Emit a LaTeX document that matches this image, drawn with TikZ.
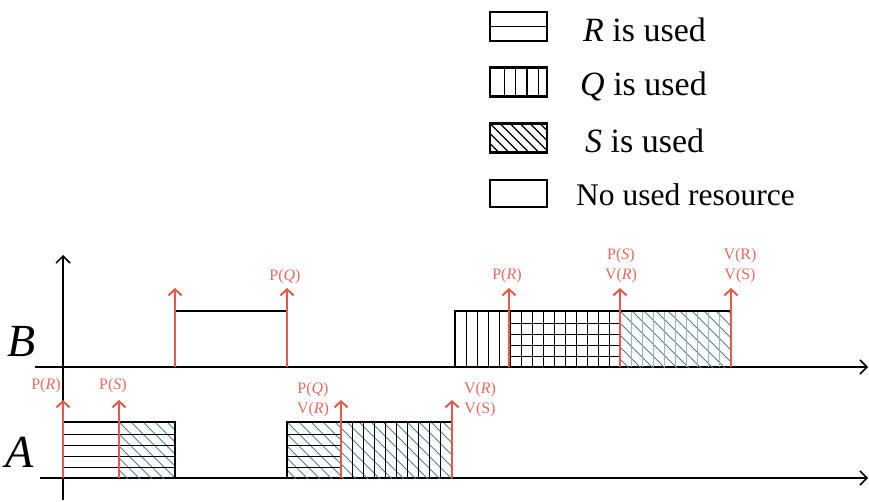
\documentclass[tikz,border=0pt]{standalone}
\usepackage{fontspec}
\setmainfont{Liberation Serif}
\usetikzlibrary{arrows.meta,calc}
\definecolor{sig}{HTML}{E5584A}
\definecolor{siglight}{HTML}{E26A60}
\definecolor{hatch}{HTML}{4F7E90}
\definecolor{faint}{HTML}{9DB4C0}

\begin{document}
\begin{tikzpicture}[
    x=1pt, y=1pt,
    axis/.style={draw=black, line width=1.5pt, -{Straight Barb[length=7pt, width=14pt, line width=1.5pt]}},
    event/.style={draw=sig, line width=2.2pt, -{Straight Barb[length=6pt, width=13pt, line width=2pt]}},
    edge/.style={draw=black, line width=1.4pt},
    hl/.style={draw=black, line width=1pt},
    dg/.style={draw=hatch, line width=0.8pt},
    fl/.style={draw=faint, line width=0.7pt},
    tag/.style={text=siglight, font=\fontsize{16}{20}\selectfont, inner sep=0pt, align=center},
    track/.style={font=\fontsize{46}{48}\selectfont\itshape, inner sep=0pt},
    key/.style={draw=black, line width=2.2pt, minimum width=57pt, minimum height=29pt, inner sep=0pt},
    keytext/.style={font=\fontsize{34}{38}\selectfont, anchor=west, inner sep=0pt},
  ]
  \useasboundingbox (0,0) rectangle (869,501);

  % Legende
  \node[key, path picture={\draw[line width=1.8pt] (path picture bounding box.west) -- (path picture bounding box.east);}]
    (keyR) at (518.5,474.5) {};
  \node[key, path picture={\foreach \f in {0.25,0.45,0.65,0.85}
      \draw[line width=1.5pt] ($(path picture bounding box.south west)!\f!(path picture bounding box.south east)$) -- ++(0,30);}]
    (keyQ) at (518.5,419) {};
  \node[key, path picture={\foreach \d in {-30,-20,...,60}
      \draw[line width=1.1pt] ([xshift=\d pt]path picture bounding box.north west) -- ++(30,-30);}]
    (keyS) at (518.5,363) {};
  \node[key, minimum height=27pt] (keyN) at (518.5,307.5) {};
  \node[keytext] (tR) at (583,471) {\textit{R} is used};
  \node[keytext] (tQ) at (580,415) {\textit{Q} is used};
  \node[keytext] (tS) at (585,360) {\textit{S} is used};
  \node[keytext, font=\fontsize{31.5}{36}\selectfont] (tN) at (576,306) {No used resource};

  % Achsen
  \coordinate (ybot) at (63,1);   \coordinate (ytop) at (63,246);
  \coordinate (bL) at (35,134);   \coordinate (bR) at (868,134);
  \coordinate (aL) at (40,23);    \coordinate (aR) at (868,23);
  \draw[axis] (ybot) -- (ytop);
  \draw[axis] (bL) -- (bR);
  \draw[axis] (aL) -- (aR);
  \node[track] (lblB) at (22,159) {B};
  \node[track] (lblA) at (20,49) {A};

  % Ereignisse auf beiden Zeitachsen
  \foreach \n/\x in {b1/175,b2/287,b3/509,b4/620,b5/731} \coordinate (\n) at (\x,134);
  \foreach \n/\x in {a1/63,a2/119,a3/341,a4/452} \coordinate (\n) at (\x,23);

  % Schraffur S
  \foreach \a/\b/\lo/\hi in {119/175/23/79, 287/452/23/79, 620/731/134/190} {
    \begin{scope}
      \clip (\a,\lo) rectangle (\b,\hi);
      \foreach \x in {0,12,...,240} \draw[dg] ({\a-60+\x},\hi) -- ++(60,-60);
    \end{scope}
  }

  % Schraffur R (waagerecht) und Q (senkrecht)
  \foreach \a/\b/\lo in {63/175/23, 287/341/23, 509/620/134}
    \foreach \k in {1,...,4} \draw[hl] (\a,{\lo+11*\k}) -- (\b,{\lo+11*\k});
  \foreach \x in {466,477,...,614} \draw[hl] (\x,134) -- (\x,190);
  \foreach \x in {352,363,...,446} \draw[hl] (\x,23) -- (\x,79);
  \foreach \x in {631,642,...,725} \draw[fl] (\x,134) -- (\x,190);

  % Umrisse der Belegungen
  \draw[edge] (175,190) -- (287,190);
  \draw[edge] (455,134) -- (455,190) -- (731,190);
  \draw[edge] (63,79) -- (175,79) -- (175,23);
  \draw[edge] (287,23) -- (287,79) -- (452,79);

  % Pfeile der Operationen
  \foreach \n in {b1,b2,b3,b4,b5} \draw[event] (\n) -- ++(0,79);
  \foreach \n in {a1,a2,a3,a4} \draw[event] (\n) -- ++(0,78);

  % Beschriftung
  \node[tag] (pB2) at (285,224) {P(\textit{Q})};
  \node[tag] (pB3) at (507,225) {P(\textit{R})};
  \node[tag] (pB4) at (621,235) {P(\textit{S})\\V(\textit{R})};
  \node[tag] (pB5) at (740,235) {V(R)\\V(S)};
  \node[tag] (pA1) at (46,115) {P(\textit{R})};
  \node[tag] (pA2) at (113,115) {P(\textit{S})};
  \node[tag] (pA3) at (313,101) {P(\textit{Q})\\V(\textit{R})};
  \node[tag] (pA4) at (480,101) {V(\textit{R})\\V(S)};

\end{tikzpicture}
\end{document}
